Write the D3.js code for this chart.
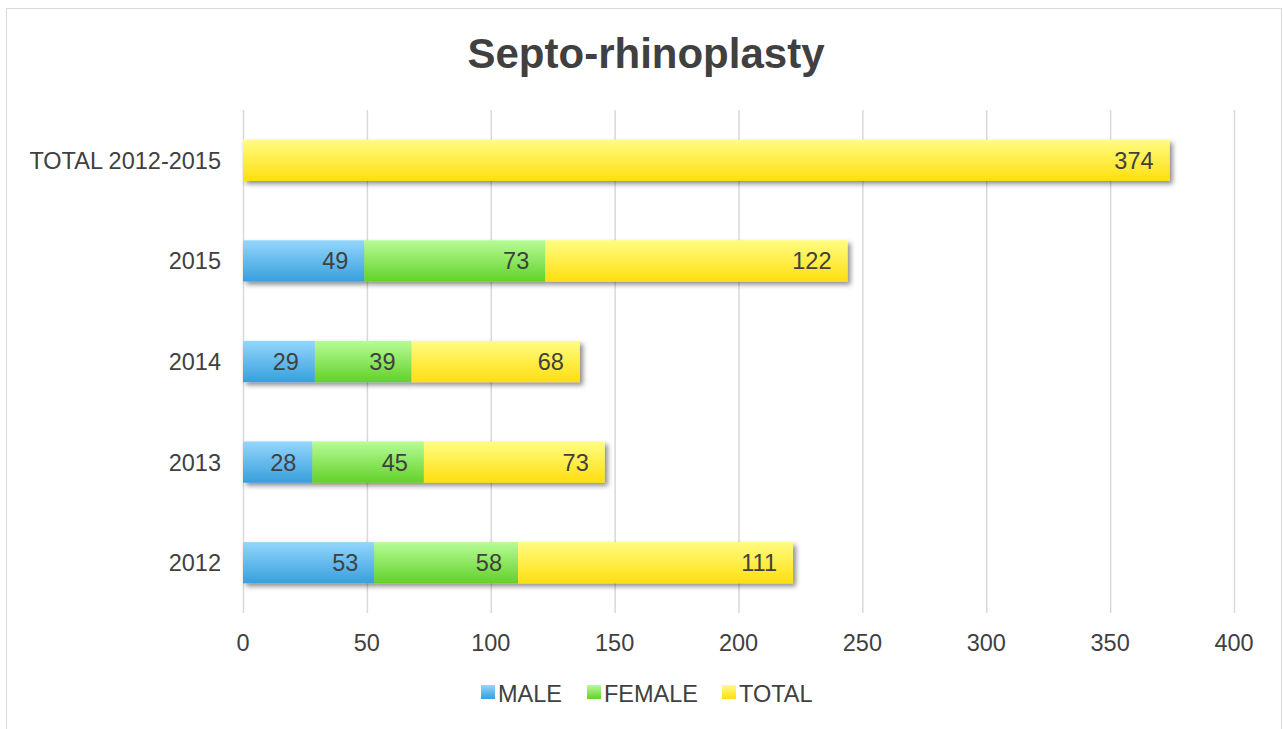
<!DOCTYPE html>
<html>
<head>
<meta charset="utf-8">
<script src="https://cdn.jsdelivr.net/npm/d3@7"></script>
<style>
  html, body { margin: 0; padding: 0; background: #fff; }
  svg { display: block; font-family: "Liberation Sans", Arial, sans-serif; }
</style>
</head>
<body>
<svg id="chart" width="1283" height="729"></svg>
<script>
// ── Data ──
const categories = ["TOTAL 2012-2015", "2015", "2014", "2013", "2012"];
const seriesNames = ["MALE", "FEMALE", "TOTAL"];
const maleValues   = [null, 49, 29, 28, 53];
const femaleValues = [null, 73, 39, 45, 58];
const totalValues  = [374, 122, 68, 73, 111];
const xTicks = [0, 50, 100, 150, 200, 250, 300, 350, 400];

const W = 1283, H = 729;
const MARGIN = { top: 110, right: 49, bottom: 116, left: 243 };
const FONT = "23.5px";

const svg = d3.select("#chart");

// ── Gradients + shadow ──
const defs = svg.append("defs");
const grads = [
  { id: "g-male",   top: "#93d6fd", bot: "#389fdc" },
  { id: "g-female", top: "#b6fc96", bot: "#63d129" },
  { id: "g-total",  top: "#fffc82", bot: "#ffdf10" }
];
grads.forEach(g => {
  const lg = defs.append("linearGradient").attr("id", g.id)
    .attr("x1", 0).attr("y1", 0).attr("x2", 0).attr("y2", 1);
  lg.append("stop").attr("offset", "0%").attr("stop-color", g.top);
  lg.append("stop").attr("offset", "100%").attr("stop-color", g.bot);
});
const flt = defs.append("filter").attr("id", "shadow")
  .attr("x", "-5%").attr("y", "-20%").attr("width", "115%").attr("height", "160%");
flt.append("feDropShadow")
  .attr("dx", 3).attr("dy", 3).attr("stdDeviation", 2.5)
  .attr("flood-color", "#000").attr("flood-opacity", 0.45);

// ── Outer border ──
svg.append("rect")
  .attr("x", 6.5).attr("y", 8.5)
  .attr("width", W - 8).attr("height", H)
  .attr("fill", "none").attr("stroke", "#d9d9d9").attr("stroke-width", 1);

// ── Scales ──
const x = d3.scaleLinear().domain([0, 400]).range([MARGIN.left, W - MARGIN.right]);
const y = d3.scaleBand().domain(categories)
  .range([MARGIN.top, H - MARGIN.bottom]).paddingInner(0.59).paddingOuter(0.295);

// ── Gridlines ──
svg.append("g").selectAll("line").data(xTicks).join("line")
  .attr("x1", d => x(d) + 0.5).attr("x2", d => x(d) + 0.5)
  .attr("y1", MARGIN.top).attr("y2", H - MARGIN.bottom)
  .attr("stroke", "#d9d9d9").attr("stroke-width", 1.5);

// ── Stacked bars ──
const rows = categories.map((c, i) => ({
  cat: c, MALE: maleValues[i] || 0, FEMALE: femaleValues[i] || 0, TOTAL: totalValues[i] || 0
}));
const stack = d3.stack().keys(seriesNames)(rows);
const fills = { MALE: "url(#g-male)", FEMALE: "url(#g-female)", TOTAL: "url(#g-total)" };

const barsG = svg.append("g").attr("filter", "url(#shadow)");
stack.forEach(layer => {
  barsG.append("g").selectAll("rect")
    .data(layer.filter(d => d[1] > d[0]))
    .join("rect")
    .attr("x", d => x(d[0]))
    .attr("y", d => y(d.data.cat))
    .attr("width", d => x(d[1]) - x(d[0]))
    .attr("height", y.bandwidth())
    .attr("fill", fills[layer.key]);
});

// ── Data labels ──
stack.forEach(layer => {
  svg.append("g").selectAll("text")
    .data(layer.filter(d => d[1] > d[0]))
    .join("text")
    .attr("x", d => x(d[1]) - 16)
    .attr("y", d => y(d.data.cat) + y.bandwidth() / 2 + 8.5)
    .attr("text-anchor", "end")
    .style("font-size", FONT)
    .style("fill", "#404040")
    .text(d => d.data[layer.key]);
});

// ── Category labels ──
svg.append("g").selectAll("text").data(categories).join("text")
  .attr("x", 221)
  .attr("y", d => y(d) + y.bandwidth() / 2 + 8.5)
  .attr("text-anchor", "end")
  .style("font-size", FONT)
  .style("fill", "#404040")
  .text(d => d);

// ── X tick labels ──
svg.append("g").selectAll("text").data(xTicks).join("text")
  .attr("x", d => x(d))
  .attr("y", 651)
  .attr("text-anchor", "middle")
  .style("font-size", FONT)
  .style("fill", "#404040")
  .text(d => d);

// ── Title ──
svg.append("text")
  .attr("x", 646).attr("y", 68)
  .attr("text-anchor", "middle")
  .style("font-size", "42px")
  .style("font-weight", "bold")
  .style("fill", "#404040")
  .text("Septo-rhinoplasty");

// ── Legend ──
const legendX = [481, 587, 722];
const legendFill = ["url(#g-male)", "url(#g-female)", "url(#g-total)"];
const lg = svg.append("g");
seriesNames.forEach((name, i) => {
  lg.append("rect")
    .attr("x", legendX[i]).attr("y", 685)
    .attr("width", 14).attr("height", 14)
    .attr("fill", legendFill[i]);
  lg.append("text")
    .attr("x", legendX[i] + 17).attr("y", 702)
    .style("font-size", FONT)
    .style("fill", "#404040")
    .text(name);
});
</script>
</body>
</html>
